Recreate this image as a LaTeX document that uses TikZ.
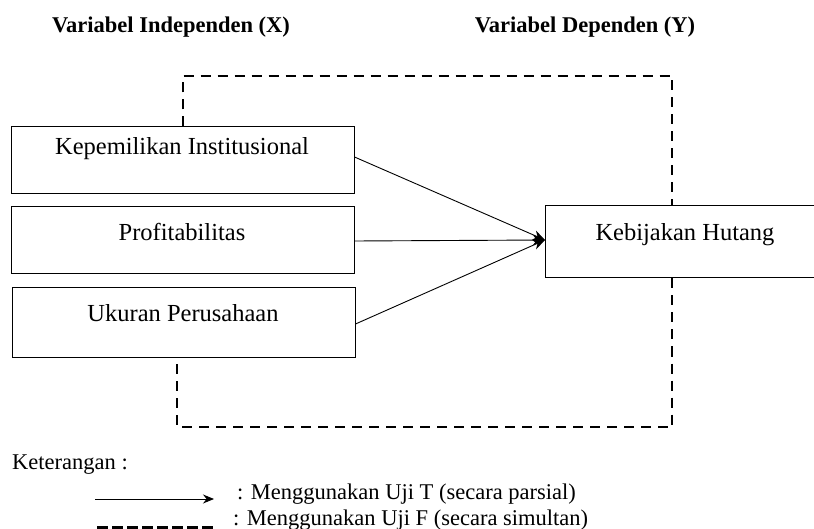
\documentclass[tikz,border=0pt]{standalone}
\usepackage{fontspec}
\setmainfont{Liberation Serif}
\usetikzlibrary{arrows.meta}
\begin{document}
\begin{tikzpicture}[x=1pt,y=-1pt,
  boxnode/.style={draw, line width=1pt, inner sep=0pt},
  lbl/.style={font=\fontsize{24.5}{28}\selectfont, inner sep=0pt},
  ttl/.style={font=\fontsize{22.5}{26}\selectfont\bfseries, inner sep=0pt},
  leg/.style={font=\fontsize{22.5}{26}\selectfont, inner sep=0pt, anchor=west},
  conn/.style={line width=0.9pt, -{Stealth[length=12pt,width=10pt]}},
  dsh/.style={line width=2.3pt, dash pattern=on 10pt off 7pt},
  thickdsh/.style={line width=5pt, dash pattern=on 11pt off 4pt}
]
\useasboundingbox (0,0) rectangle (814,529);

\node[ttl] (t1) at (171,27) {Variabel Independen (X)};
\node[ttl] (t2) at (585,27) {Variabel Dependen (Y)};

\node[boxnode, minimum width=343pt, minimum height=67pt] (b1) at (182.5,160.5) {};
\node[boxnode, minimum width=343pt, minimum height=67pt] (b2) at (182.5,240.5) {};
\node[boxnode, minimum width=343pt, minimum height=69pt] (b3) at (183.5,322.5) {};
\node[boxnode, minimum width=275pt, minimum height=72pt] (k) at (682.5,242) {};

\node[lbl] (b1t) at (182,149) {Kepemilikan Institusional};
\node[lbl] (b2t) at (182,232) {Profitabilitas};
\node[lbl] (b3t) at (183,313) {Ukuran Perusahaan};
\node[lbl] (kt) at (685,235) {Kebijakan Hutang};

\coordinate (tip) at (545,240);
\draw[conn] (b1.east |- 0,157) -- (tip);
\draw[conn] (b2.east |- 0,241) -- (tip);
\draw[conn] (b3.east |- 0,324) -- (tip);

\coordinate (c1) at (183,76);
\coordinate (c2) at (672,76);
\coordinate (c3) at (672,427);
\coordinate (c4) at (177,427);
\draw[dsh] (b1.north -| c1) -- (c1) -- (c2) -- (k.north -| c2);
\draw[dsh] (k.south -| c3) -- (c3) -- (c4) -- (b3.south -| c4);

\node[leg] (ket) at (12,465) {Keterangan :};
\coordinate (la1) at (95,499);
\coordinate (la2) at (214,499);
\draw[line width=0.9pt, -{Stealth[length=11pt,width=9pt]}] (la1) -- (la2);
\node[leg] (lt) at (237,494) {: Menggunakan Uji T (secara parsial)};
\coordinate (ld1) at (97,528);
\coordinate (ld2) at (213,528);
\draw[thickdsh] (ld1) -- (ld2);
\node[leg] (lf) at (233,520) {: Menggunakan Uji F (secara simultan)};
\end{tikzpicture}
\end{document}
